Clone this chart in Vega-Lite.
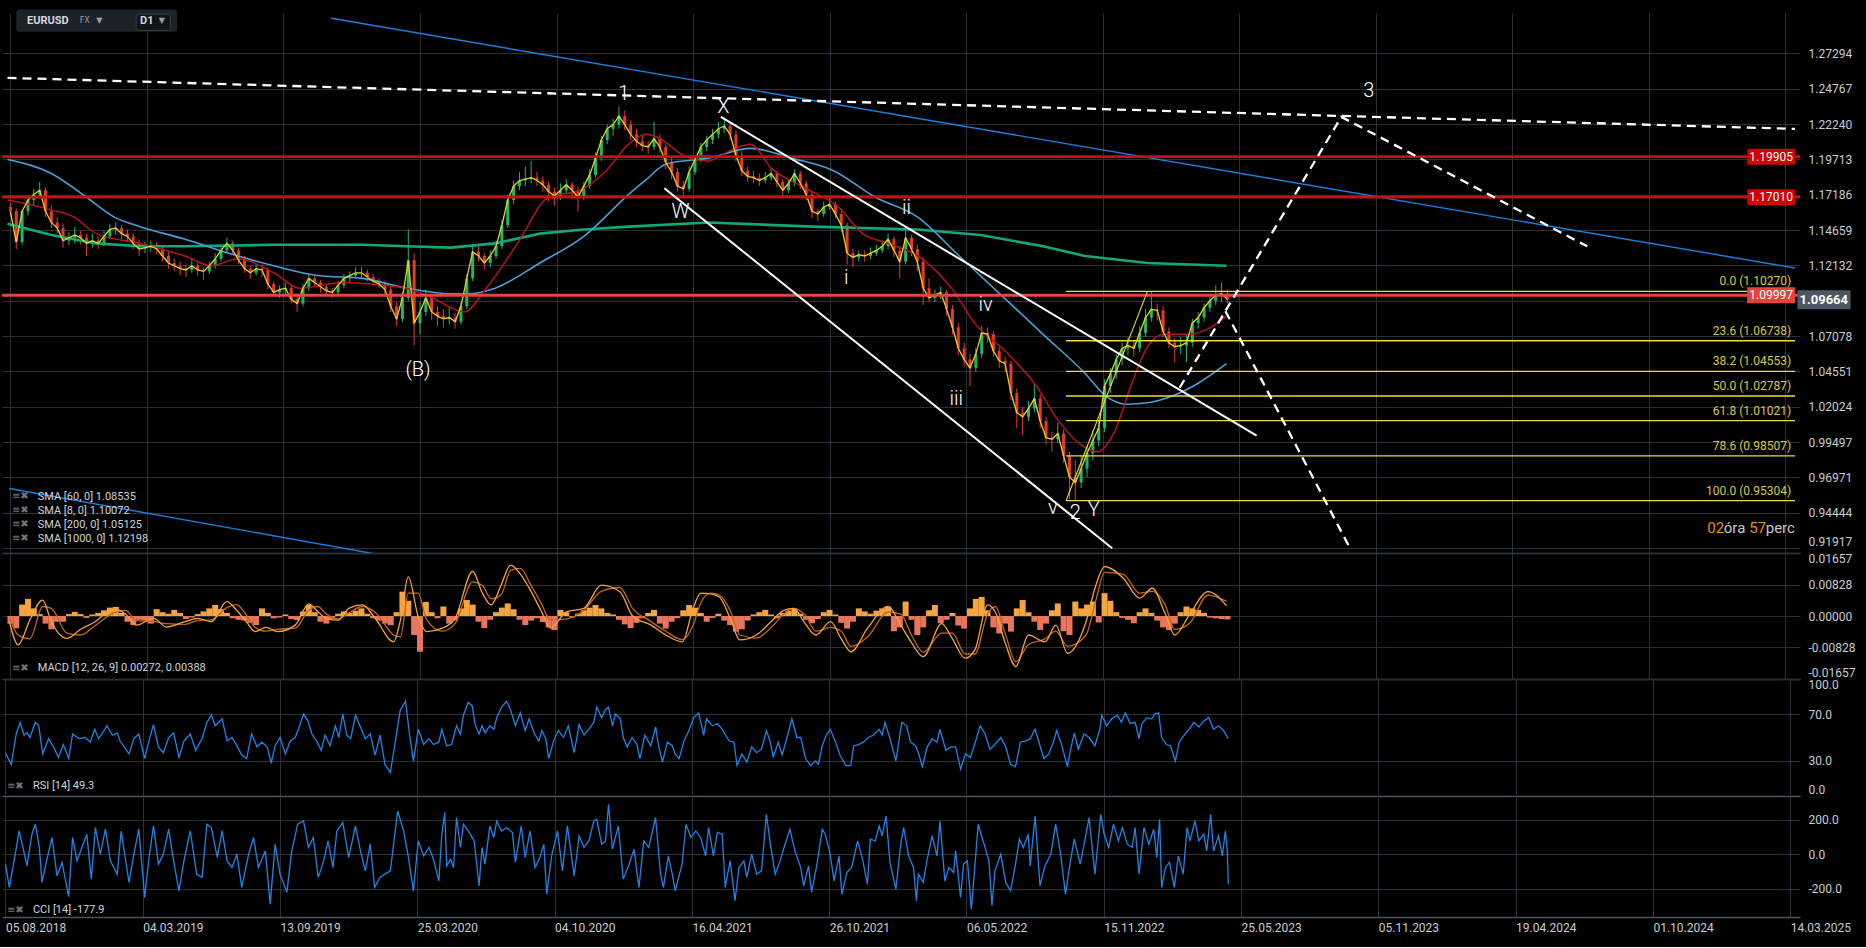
{
  "$schema": "https://vega.github.io/schema/vega-lite/v6.json",
  "background": "#000000",
  "padding": {"left": 0, "top": 9, "right": 16, "bottom": 14},
  "bounds": "flush",
  "spacing": 0,
  "datasets": {
    "px": [
      {"i":0,"o":1.163,"h":1.166,"l":1.157,"c":1.16},{"i":6,"o":1.16,"h":1.162,"l":1.133,"c":1.138},{"i":12,"o":1.138,"h":1.161,"l":1.136,"c":1.16},{"i":18,"o":1.16,"h":1.171,"l":1.157,"c":1.168},{"i":24,"o":1.168,"h":1.176,"l":1.164,"c":1.172},{"i":30,"o":1.172,"h":1.181,"l":1.169,"c":1.175},{"i":36,"o":1.175,"h":1.177,"l":1.156,"c":1.16},{"i":42,"o":1.16,"h":1.164,"l":1.148,"c":1.152},{"i":48,"o":1.152,"h":1.156,"l":1.144,"c":1.148},{"i":54,"o":1.148,"h":1.151,"l":1.134,"c":1.139},
      {"i":60,"o":1.139,"h":1.145,"l":1.136,"c":1.141},{"i":66,"o":1.141,"h":1.149,"l":1.137,"c":1.143},{"i":72,"o":1.143,"h":1.146,"l":1.136,"c":1.141},{"i":78,"o":1.141,"h":1.144,"l":1.128,"c":1.137},{"i":84,"o":1.137,"h":1.144,"l":1.134,"c":1.139},{"i":90,"o":1.139,"h":1.142,"l":1.133,"c":1.137},{"i":96,"o":1.137,"h":1.146,"l":1.135,"c":1.142},{"i":102,"o":1.142,"h":1.151,"l":1.14,"c":1.147},{"i":108,"o":1.147,"h":1.152,"l":1.143,"c":1.148},{"i":114,"o":1.148,"h":1.15,"l":1.14,"c":1.144},
      {"i":120,"o":1.144,"h":1.147,"l":1.138,"c":1.142},{"i":126,"o":1.142,"h":1.144,"l":1.133,"c":1.137},{"i":132,"o":1.137,"h":1.14,"l":1.128,"c":1.133},{"i":138,"o":1.133,"h":1.138,"l":1.13,"c":1.134},{"i":144,"o":1.134,"h":1.139,"l":1.131,"c":1.135},{"i":150,"o":1.135,"h":1.138,"l":1.129,"c":1.133},{"i":156,"o":1.133,"h":1.135,"l":1.124,"c":1.128},{"i":162,"o":1.128,"h":1.131,"l":1.119,"c":1.123},{"i":168,"o":1.123,"h":1.126,"l":1.117,"c":1.121},{"i":174,"o":1.121,"h":1.124,"l":1.114,"c":1.119},
      {"i":180,"o":1.119,"h":1.122,"l":1.113,"c":1.118},{"i":186,"o":1.118,"h":1.126,"l":1.116,"c":1.121},{"i":192,"o":1.121,"h":1.123,"l":1.114,"c":1.118},{"i":198,"o":1.118,"h":1.12,"l":1.111,"c":1.117},{"i":204,"o":1.117,"h":1.124,"l":1.115,"c":1.121},{"i":210,"o":1.121,"h":1.13,"l":1.119,"c":1.126},{"i":216,"o":1.126,"h":1.135,"l":1.124,"c":1.132},{"i":222,"o":1.132,"h":1.141,"l":1.13,"c":1.137},{"i":228,"o":1.137,"h":1.139,"l":1.129,"c":1.132},{"i":234,"o":1.132,"h":1.134,"l":1.122,"c":1.125},
      {"i":240,"o":1.125,"h":1.128,"l":1.116,"c":1.119},{"i":246,"o":1.119,"h":1.121,"l":1.112,"c":1.116},{"i":252,"o":1.116,"h":1.123,"l":1.114,"c":1.119},{"i":258,"o":1.119,"h":1.122,"l":1.113,"c":1.118},{"i":264,"o":1.118,"h":1.12,"l":1.104,"c":1.108},{"i":270,"o":1.108,"h":1.11,"l":1.099,"c":1.102},{"i":276,"o":1.102,"h":1.107,"l":1.098,"c":1.104},{"i":282,"o":1.104,"h":1.109,"l":1.1,"c":1.105},{"i":288,"o":1.105,"h":1.107,"l":1.094,"c":1.097},{"i":294,"o":1.097,"h":1.1,"l":1.088,"c":1.094},
      {"i":300,"o":1.094,"h":1.108,"l":1.092,"c":1.105},{"i":306,"o":1.105,"h":1.115,"l":1.103,"c":1.112},{"i":312,"o":1.112,"h":1.114,"l":1.106,"c":1.109},{"i":318,"o":1.109,"h":1.111,"l":1.102,"c":1.106},{"i":324,"o":1.106,"h":1.108,"l":1.099,"c":1.103},{"i":330,"o":1.103,"h":1.105,"l":1.098,"c":1.102},{"i":336,"o":1.102,"h":1.11,"l":1.1,"c":1.107},{"i":342,"o":1.107,"h":1.115,"l":1.105,"c":1.112},{"i":348,"o":1.112,"h":1.117,"l":1.109,"c":1.114},{"i":354,"o":1.114,"h":1.12,"l":1.112,"c":1.116},
      {"i":360,"o":1.116,"h":1.12,"l":1.112,"c":1.116},{"i":366,"o":1.116,"h":1.118,"l":1.11,"c":1.113},{"i":372,"o":1.113,"h":1.115,"l":1.107,"c":1.11},{"i":378,"o":1.11,"h":1.112,"l":1.105,"c":1.108},{"i":384,"o":1.108,"h":1.11,"l":1.1,"c":1.104},{"i":390,"o":1.104,"h":1.106,"l":1.088,"c":1.092},{"i":396,"o":1.092,"h":1.095,"l":1.078,"c":1.083},{"i":402,"o":1.083,"h":1.102,"l":1.081,"c":1.098},{"i":408,"o":1.098,"h":1.147,"l":1.096,"c":1.125},{"i":414,"o":1.125,"h":1.13,"l":1.064,"c":1.08},
      {"i":420,"o":1.08,"h":1.095,"l":1.072,"c":1.088},{"i":426,"o":1.088,"h":1.104,"l":1.085,"c":1.098},{"i":432,"o":1.098,"h":1.1,"l":1.082,"c":1.088},{"i":438,"o":1.088,"h":1.092,"l":1.078,"c":1.085},{"i":444,"o":1.085,"h":1.09,"l":1.077,"c":1.083},{"i":450,"o":1.083,"h":1.092,"l":1.079,"c":1.084},{"i":456,"o":1.084,"h":1.087,"l":1.076,"c":1.081},{"i":462,"o":1.081,"h":1.095,"l":1.079,"c":1.092},{"i":468,"o":1.092,"h":1.115,"l":1.09,"c":1.112},{"i":474,"o":1.112,"h":1.136,"l":1.11,"c":1.131},
      {"i":480,"o":1.131,"h":1.135,"l":1.124,"c":1.128},{"i":486,"o":1.128,"h":1.13,"l":1.118,"c":1.123},{"i":492,"o":1.123,"h":1.132,"l":1.12,"c":1.128},{"i":498,"o":1.128,"h":1.139,"l":1.126,"c":1.135},{"i":504,"o":1.135,"h":1.154,"l":1.133,"c":1.15},{"i":510,"o":1.15,"h":1.172,"l":1.148,"c":1.168},{"i":516,"o":1.168,"h":1.182,"l":1.165,"c":1.178},{"i":522,"o":1.178,"h":1.188,"l":1.175,"c":1.182},{"i":528,"o":1.182,"h":1.192,"l":1.178,"c":1.183},{"i":534,"o":1.183,"h":1.196,"l":1.18,"c":1.184},
      {"i":540,"o":1.184,"h":1.188,"l":1.178,"c":1.182},{"i":546,"o":1.182,"h":1.185,"l":1.174,"c":1.179},{"i":552,"o":1.179,"h":1.181,"l":1.167,"c":1.174},{"i":558,"o":1.174,"h":1.177,"l":1.164,"c":1.171},{"i":564,"o":1.171,"h":1.18,"l":1.168,"c":1.175},{"i":570,"o":1.175,"h":1.183,"l":1.172,"c":1.179},{"i":576,"o":1.179,"h":1.181,"l":1.17,"c":1.175},{"i":582,"o":1.175,"h":1.178,"l":1.16,"c":1.17},{"i":588,"o":1.17,"h":1.181,"l":1.168,"c":1.178},{"i":594,"o":1.178,"h":1.19,"l":1.176,"c":1.186},
      {"i":600,"o":1.186,"h":1.202,"l":1.184,"c":1.198},{"i":606,"o":1.198,"h":1.214,"l":1.196,"c":1.211},{"i":612,"o":1.211,"h":1.222,"l":1.208,"c":1.219},{"i":618,"o":1.219,"h":1.226,"l":1.214,"c":1.222},{"i":624,"o":1.222,"h":1.235,"l":1.219,"c":1.228},{"i":630,"o":1.228,"h":1.232,"l":1.218,"c":1.222},{"i":636,"o":1.222,"h":1.225,"l":1.211,"c":1.215},{"i":642,"o":1.215,"h":1.219,"l":1.206,"c":1.21},{"i":648,"o":1.21,"h":1.214,"l":1.203,"c":1.207},{"i":654,"o":1.207,"h":1.21,"l":1.201,"c":1.206},
      {"i":660,"o":1.206,"h":1.224,"l":1.204,"c":1.212},{"i":666,"o":1.212,"h":1.215,"l":1.202,"c":1.206},{"i":672,"o":1.206,"h":1.208,"l":1.19,"c":1.195},{"i":678,"o":1.195,"h":1.198,"l":1.183,"c":1.188},{"i":684,"o":1.188,"h":1.191,"l":1.174,"c":1.178},{"i":690,"o":1.178,"h":1.182,"l":1.17,"c":1.176},{"i":696,"o":1.176,"h":1.192,"l":1.174,"c":1.188},{"i":702,"o":1.188,"h":1.2,"l":1.186,"c":1.197},{"i":708,"o":1.197,"h":1.209,"l":1.195,"c":1.206},{"i":714,"o":1.206,"h":1.214,"l":1.203,"c":1.211},
      {"i":720,"o":1.211,"h":1.219,"l":1.208,"c":1.215},{"i":726,"o":1.215,"h":1.224,"l":1.212,"c":1.219},{"i":732,"o":1.219,"h":1.227,"l":1.216,"c":1.221},{"i":738,"o":1.221,"h":1.224,"l":1.211,"c":1.215},{"i":744,"o":1.215,"h":1.218,"l":1.196,"c":1.2},{"i":750,"o":1.2,"h":1.203,"l":1.185,"c":1.189},{"i":756,"o":1.189,"h":1.192,"l":1.181,"c":1.185},{"i":762,"o":1.185,"h":1.189,"l":1.18,"c":1.184},{"i":768,"o":1.184,"h":1.187,"l":1.178,"c":1.182},{"i":774,"o":1.182,"h":1.188,"l":1.18,"c":1.184},
      {"i":780,"o":1.184,"h":1.191,"l":1.182,"c":1.187},{"i":786,"o":1.187,"h":1.189,"l":1.177,"c":1.181},{"i":792,"o":1.181,"h":1.183,"l":1.17,"c":1.175},{"i":798,"o":1.175,"h":1.183,"l":1.173,"c":1.18},{"i":804,"o":1.18,"h":1.19,"l":1.178,"c":1.187},{"i":810,"o":1.187,"h":1.189,"l":1.176,"c":1.18},{"i":816,"o":1.18,"h":1.182,"l":1.168,"c":1.172},{"i":822,"o":1.172,"h":1.174,"l":1.155,"c":1.16},{"i":828,"o":1.16,"h":1.162,"l":1.153,"c":1.158},{"i":834,"o":1.158,"h":1.167,"l":1.156,"c":1.163},
      {"i":840,"o":1.163,"h":1.17,"l":1.161,"c":1.165},{"i":846,"o":1.165,"h":1.167,"l":1.155,"c":1.158},{"i":852,"o":1.158,"h":1.16,"l":1.145,"c":1.15},{"i":858,"o":1.15,"h":1.152,"l":1.122,"c":1.13},{"i":864,"o":1.13,"h":1.133,"l":1.12,"c":1.127},{"i":870,"o":1.127,"h":1.132,"l":1.124,"c":1.129},{"i":876,"o":1.129,"h":1.132,"l":1.124,"c":1.128},{"i":882,"o":1.128,"h":1.134,"l":1.126,"c":1.13},{"i":888,"o":1.13,"h":1.136,"l":1.128,"c":1.132},{"i":894,"o":1.132,"h":1.139,"l":1.13,"c":1.135},
      {"i":900,"o":1.135,"h":1.144,"l":1.133,"c":1.14},{"i":906,"o":1.14,"h":1.142,"l":1.127,"c":1.132},{"i":912,"o":1.132,"h":1.135,"l":1.112,"c":1.124},{"i":918,"o":1.124,"h":1.149,"l":1.122,"c":1.141},{"i":924,"o":1.141,"h":1.143,"l":1.128,"c":1.133},{"i":930,"o":1.133,"h":1.136,"l":1.117,"c":1.124},{"i":936,"o":1.124,"h":1.127,"l":1.093,"c":1.105},{"i":942,"o":1.105,"h":1.112,"l":1.095,"c":1.098},{"i":948,"o":1.098,"h":1.104,"l":1.095,"c":1.1},{"i":954,"o":1.1,"h":1.106,"l":1.097,"c":1.102},
      {"i":960,"o":1.102,"h":1.104,"l":1.085,"c":1.09},{"i":966,"o":1.09,"h":1.093,"l":1.072,"c":1.077},{"i":972,"o":1.077,"h":1.08,"l":1.057,"c":1.062},{"i":978,"o":1.062,"h":1.066,"l":1.049,"c":1.054},{"i":984,"o":1.054,"h":1.058,"l":1.035,"c":1.048},{"i":990,"o":1.048,"h":1.062,"l":1.045,"c":1.058},{"i":996,"o":1.058,"h":1.078,"l":1.055,"c":1.073},{"i":1002,"o":1.073,"h":1.077,"l":1.066,"c":1.072},{"i":1008,"o":1.072,"h":1.074,"l":1.056,"c":1.06},{"i":1014,"o":1.06,"h":1.063,"l":1.048,"c":1.053},
      {"i":1020,"o":1.053,"h":1.056,"l":1.045,"c":1.051},{"i":1026,"o":1.051,"h":1.053,"l":1.025,"c":1.03},{"i":1032,"o":1.03,"h":1.033,"l":1.005,"c":1.016},{"i":1038,"o":1.016,"h":1.02,"l":1.0,"c":1.013},{"i":1044,"o":1.013,"h":1.024,"l":1.01,"c":1.019},{"i":1050,"o":1.019,"h":1.037,"l":1.016,"c":1.026},{"i":1056,"o":1.026,"h":1.029,"l":1.005,"c":1.01},{"i":1062,"o":1.01,"h":1.013,"l":0.993,"c":0.998},{"i":1068,"o":0.998,"h":1.002,"l":0.988,"c":0.997},{"i":1074,"o":0.997,"h":1.009,"l":0.994,"c":1.001},
      {"i":1080,"o":1.001,"h":1.004,"l":0.98,"c":0.985},{"i":1086,"o":0.985,"h":0.988,"l":0.954,"c":0.97},{"i":1092,"o":0.97,"h":0.982,"l":0.9535,"c":0.966},{"i":1098,"o":0.966,"h":0.985,"l":0.962,"c":0.976},{"i":1104,"o":0.976,"h":0.992,"l":0.97,"c":0.987},{"i":1110,"o":0.987,"h":1.003,"l":0.982,"c":0.996},{"i":1116,"o":0.996,"h":1.01,"l":0.992,"c":1.005},{"i":1122,"o":1.005,"h":1.04,"l":1.002,"c":1.035},{"i":1128,"o":1.035,"h":1.048,"l":1.03,"c":1.044},{"i":1134,"o":1.044,"h":1.058,"l":1.04,"c":1.054},
      {"i":1140,"o":1.054,"h":1.066,"l":1.05,"c":1.062},{"i":1146,"o":1.062,"h":1.07,"l":1.057,"c":1.064},{"i":1152,"o":1.064,"h":1.068,"l":1.056,"c":1.062},{"i":1158,"o":1.062,"h":1.078,"l":1.059,"c":1.073},{"i":1164,"o":1.073,"h":1.09,"l":1.07,"c":1.084},{"i":1170,"o":1.084,"h":1.103,"l":1.081,"c":1.09},{"i":1176,"o":1.09,"h":1.094,"l":1.082,"c":1.089},{"i":1182,"o":1.089,"h":1.092,"l":1.07,"c":1.074},{"i":1188,"o":1.074,"h":1.077,"l":1.062,"c":1.066},{"i":1194,"o":1.066,"h":1.069,"l":1.052,"c":1.063},
      {"i":1200,"o":1.063,"h":1.07,"l":1.058,"c":1.064},{"i":1206,"o":1.064,"h":1.072,"l":1.052,"c":1.066},{"i":1212,"o":1.066,"h":1.083,"l":1.063,"c":1.08},{"i":1218,"o":1.08,"h":1.088,"l":1.076,"c":1.084},{"i":1224,"o":1.084,"h":1.094,"l":1.081,"c":1.091},{"i":1230,"o":1.091,"h":1.101,"l":1.088,"c":1.096},{"i":1236,"o":1.096,"h":1.107,"l":1.093,"c":1.1},{"i":1242,"o":1.1,"h":1.109,"l":1.095,"c":1.101},{"i":1248,"o":1.101,"h":1.104,"l":1.094,"c":1.097}
    ],
    "ma": [
      {"k":"60","i":-3,"v":1.168},{"k":"60","i":42,"v":1.161},{"k":"60","i":65,"v":1.156},{"k":"60","i":88,"v":1.144},{"k":"60","i":133,"v":1.137},{"k":"60","i":179,"v":1.128},{"k":"60","i":206,"v":1.121},{"k":"60","i":233,"v":1.126},{"k":"60","i":270,"v":1.116},{"k":"60","i":297,"v":1.105},{"k":"60","i":342,"v":1.109},{"k":"60","i":383,"v":1.107},{"k":"60","i":406,"v":1.105},{"k":"60","i":433,"v":1.098},{"k":"60","i":465,"v":1.088},{"k":"60","i":488,"v":1.105},{"k":"60","i":520,"v":1.137},{"k":"60","i":552,"v":1.17},{"k":"60","i":584,"v":1.175},{"k":"60","i":611,"v":1.189},{"k":"60","i":634,"v":1.208},{"k":"60","i":652,"v":1.215},{"k":"60","i":666,"v":1.212},{"k":"60","i":690,"v":1.2},{"k":"60","i":716,"v":1.196},{"k":"60","i":737,"v":1.203},{"k":"60","i":759,"v":1.208},{"k":"60","i":780,"v":1.191},{"k":"60","i":814,"v":1.177},{"k":"60","i":849,"v":1.163},{"k":"60","i":874,"v":1.144},{"k":"60","i":900,"v":1.137},{"k":"60","i":935,"v":1.126},{"k":"60","i":965,"v":1.105},{"k":"60","i":990,"v":1.079},{"k":"60","i":1020,"v":1.06},{"k":"60","i":1050,"v":1.037},{"k":"60","i":1076,"v":1.009},{"k":"60","i":1098,"v":0.993},{"k":"60","i":1115,"v":0.988},{"k":"60","i":1132,"v":1.002},{"k":"60","i":1149,"v":1.035},{"k":"60","i":1166,"v":1.063},{"k":"60","i":1183,"v":1.072},{"k":"60","i":1209,"v":1.072},{"k":"60","i":1231,"v":1.077},{"k":"60","i":1247,"v":1.085},
      {"k":"200","i":-3,"v":1.197},{"k":"200","i":42,"v":1.187},{"k":"200","i":78,"v":1.17},{"k":"200","i":106,"v":1.156},{"k":"200","i":133,"v":1.149},{"k":"200","i":179,"v":1.14},{"k":"200","i":224,"v":1.13},{"k":"200","i":270,"v":1.121},{"k":"200","i":315,"v":1.114},{"k":"200","i":361,"v":1.112},{"k":"200","i":406,"v":1.105},{"k":"200","i":452,"v":1.101},{"k":"200","i":470,"v":1.101},{"k":"200","i":497,"v":1.105},{"k":"200","i":543,"v":1.123},{"k":"200","i":588,"v":1.142},{"k":"200","i":634,"v":1.172},{"k":"200","i":651,"v":1.182},{"k":"200","i":673,"v":1.194},{"k":"200","i":716,"v":1.198},{"k":"200","i":759,"v":1.205},{"k":"200","i":801,"v":1.198},{"k":"200","i":844,"v":1.189},{"k":"200","i":887,"v":1.17},{"k":"200","i":930,"v":1.156},{"k":"200","i":973,"v":1.128},{"k":"200","i":1016,"v":1.1},{"k":"200","i":1059,"v":1.072},{"k":"200","i":1102,"v":1.044},{"k":"200","i":1123,"v":1.028},{"k":"200","i":1145,"v":1.022},{"k":"200","i":1166,"v":1.023},{"k":"200","i":1192,"v":1.028},{"k":"200","i":1218,"v":1.037},{"k":"200","i":1247,"v":1.051},
      {"k":"1000","i":-3,"v":1.151},{"k":"1000","i":42,"v":1.143},{"k":"1000","i":88,"v":1.137},{"k":"1000","i":133,"v":1.135},{"k":"1000","i":179,"v":1.135},{"k":"1000","i":270,"v":1.136},{"k":"1000","i":361,"v":1.136},{"k":"1000","i":406,"v":1.135},{"k":"1000","i":452,"v":1.134},{"k":"1000","i":497,"v":1.137},{"k":"1000","i":543,"v":1.144},{"k":"1000","i":588,"v":1.147},{"k":"1000","i":634,"v":1.149},{"k":"1000","i":716,"v":1.152},{"k":"1000","i":823,"v":1.149},{"k":"1000","i":930,"v":1.147},{"k":"1000","i":995,"v":1.143},{"k":"1000","i":1059,"v":1.135},{"k":"1000","i":1102,"v":1.128},{"k":"1000","i":1166,"v":1.123},{"k":"1000","i":1247,"v":1.121}
    ],
    "ln": [
      {"g":"blue","id":"t1","i":329,"p":1.298},{"g":"blue","id":"t1","i":1830,"p":1.1194},
      {"g":"blue","id":"t2","i":-1.2,"p":0.9617},{"g":"blue","id":"t2","i":400,"p":0.9117},
      {"g":"dash","id":"d0","i":-3,"p":1.2554},{"g":"dash","id":"d0","i":1830,"p":1.2189},
      {"g":"dash","id":"d1","i":1199,"p":1.0338},{"g":"dash","id":"d1","i":1364.8,"p":1.2275},{"g":"dash","id":"d1","i":1617,"p":1.1349},
      {"g":"dash","id":"d2","i":1246,"p":1.0885},{"g":"dash","id":"d2","i":1373,"p":0.92},
      {"g":"white","id":"c1","i":728.5,"p":1.2275},{"g":"white","id":"c1","i":1277.9,"p":0.9996},
      {"g":"white","id":"c2","i":670.6,"p":1.1765},{"g":"white","id":"c2","i":1129.8,"p":0.919},
      {"g":"fibd","id":"f1","i":1082.5,"p":0.953},{"g":"fibd","id":"f1","i":1166,"p":1.1027}
    ],
    "fib": [
      {"p":1.1027,"t":"0.0 (1.10270)"},{"p":1.06738,"t":"23.6 (1.06738)"},{"p":1.04553,"t":"38.2 (1.04553)"},{"p":1.02787,"t":"50.0 (1.02787)"},{"p":1.01021,"t":"61.8 (1.01021)"},{"p":0.98507,"t":"78.6 (0.98507)"},{"p":0.95304,"t":"100.0 (0.95304)"}
    ],
    "hl": [
      {"p":1.19905,"t":"1.19905","k":"r"},{"p":1.1701,"t":"1.17010","k":"r"},{"p":1.09997,"t":"1.09997","k":"s"}
    ],
    "wv": [
      {"t":"1","i":629,"p":1.2438},{"t":"X","i":731,"p":1.2345},{"t":"W","i":687,"p":1.1597},{"t":"ii","i":919,"p":1.162},{"t":"i","i":857,"p":1.1122},{"t":"iv","i":1000,"p":1.0931},{"t":"iii","i":970,"p":1.0258},{"t":"(B)","i":418,"p":1.0463},{"t":"v","i":1069,"p":0.9481},{"t":"2","i":1092,"p":0.9439},{"t":"Y","i":1111,"p":0.9463},{"t":"3","i":1393,"p":1.2458}
    ],
    "tm": [
      {"t":"02","i":1740,"k":"n"},{"t":"óra","i":1757,"k":"w"},{"t":"57","i":1783,"k":"n"},{"t":"perc","i":1800,"k":"w"}
    ],
    "macd": [
      {"i":-1,"m":-0.0015,"s":-0.0005},{"i":8,"m":-0.0076,"s":-0.005},{"i":20,"m":-0.001,"s":-0.006},{"i":33,"m":0.0042,"s":0.0025},{"i":42,"m":-0.0015,"s":0.002},{"i":58,"m":-0.0059,"s":-0.0045},{"i":72,"m":-0.0035,"s":-0.005},{"i":87,"m":-0.0015,"s":-0.0025},{"i":106,"m":0.002,"s":0.0008},{"i":118,"m":0.0005,"s":0.0015},{"i":129,"m":-0.0024,"s":-0.0012},{"i":147,"m":-0.0006,"s":-0.0015},{"i":160,"m":-0.0029,"s":-0.002},{"i":179,"m":-0.0015,"s":-0.0022},{"i":192,"m":-0.0006,"s":-0.0012},{"i":206,"m":-0.0015,"s":-0.001},{"i":222,"m":0.0038,"s":0.0022},{"i":232,"m":0.0015,"s":0.003},{"i":242,"m":-0.0015,"s":0.0002},{"i":251,"m":-0.0041,"s":-0.003},{"i":262,"m":-0.003,"s":-0.004},{"i":274,"m":-0.0041,"s":-0.0035},{"i":292,"m":-0.0024,"s":-0.0032},{"i":306,"m":0.0032,"s":0.0015},{"i":315,"m":0.0012,"s":0.0025},{"i":324,"m":-0.0006,"s":0.0005},{"i":336,"m":-0.0011,"s":-0.0008},{"i":347,"m":0.002,"s":0.0008},{"i":361,"m":0.0029,"s":0.0025},{"i":374,"m":-0.0006,"s":0.001},{"i":393,"m":-0.0068,"s":-0.005},{"i":400,"m":-0.001,"s":-0.0055},{"i":408,"m":0.0103,"s":0.006},{"i":418,"m":0.0,"s":0.006},{"i":427,"m":-0.0041,"s":-0.001},{"i":443,"m":-0.0032,"s":-0.004},{"i":456,"m":-0.0006,"s":-0.002},{"i":474,"m":0.0117,"s":0.009},{"i":484,"m":0.006,"s":0.008},{"i":493,"m":0.0029,"s":0.0045},{"i":503,"m":0.008,"s":0.0055},{"i":513,"m":0.0134,"s":0.012},{"i":523,"m":0.011,"s":0.0125},{"i":534,"m":0.0064,"s":0.008},{"i":544,"m":0.0015,"s":0.0035},{"i":554,"m":-0.0032,"s":-0.001},{"i":570,"m":0.0011,"s":-0.0008},{"i":588,"m":0.002,"s":0.0015},{"i":606,"m":0.0081,"s":0.0065},{"i":625,"m":0.0064,"s":0.0075},{"i":638,"m":0.0,"s":0.002},{"i":657,"m":-0.0024,"s":-0.0015},{"i":672,"m":-0.005,"s":-0.004},{"i":689,"m":-0.0068,"s":-0.0062},{"i":700,"m":0.002,"s":-0.0025},{"i":708,"m":0.006,"s":0.0035},{"i":718,"m":0.0058,"s":0.006},{"i":727,"m":0.005,"s":0.0055},{"i":738,"m":-0.0005,"s":0.0015},{"i":748,"m":-0.0063,"s":-0.005},{"i":765,"m":-0.005,"s":-0.0058},{"i":782,"m":-0.001,"s":-0.0025},{"i":793,"m":0.0015,"s":0.0005},{"i":803,"m":0.002,"s":0.002},{"i":815,"m":-0.002,"s":0.0002},{"i":826,"m":-0.005,"s":-0.004},{"i":841,"m":-0.0015,"s":-0.003},{"i":852,"m":-0.006,"s":-0.004},{"i":862,"m":-0.0094,"s":-0.008},{"i":879,"m":-0.0032,"s":-0.0055},{"i":900,"m":0.0025,"s":0.001},{"i":913,"m":-0.0024,"s":0.0005},{"i":924,"m":-0.007,"s":-0.005},{"i":936,"m":-0.0107,"s":-0.0095},{"i":955,"m":-0.002,"s":-0.0045},{"i":966,"m":-0.006,"s":-0.0045},{"i":979,"m":-0.0111,"s":-0.01},{"i":989,"m":-0.0089,"s":-0.01},{"i":1002,"m":0.0029,"s":0.0005},{"i":1010,"m":0.001,"s":0.0025},{"i":1020,"m":-0.007,"s":-0.0045},{"i":1031,"m":-0.0133,"s":-0.012},{"i":1044,"m":-0.005,"s":-0.0075},{"i":1061,"m":-0.0068,"s":-0.006},{"i":1072,"m":-0.0024,"s":-0.004},{"i":1084,"m":-0.0098,"s":-0.008},{"i":1103,"m":-0.0015,"s":-0.005},{"i":1113,"m":0.008,"s":0.004},{"i":1122,"m":0.013,"s":0.0115},{"i":1141,"m":0.01,"s":0.011},{"i":1158,"m":0.0047,"s":0.006},{"i":1171,"m":0.0073,"s":0.0065},{"i":1184,"m":0.0007,"s":0.003},{"i":1194,"m":-0.005,"s":-0.0035},{"i":1209,"m":0.0003,"s":-0.002},{"i":1228,"m":0.0064,"s":0.0055},{"i":1247,"m":0.0027,"s":0.0039}
    ],
    "hist": [
      {"i":0,"h":-0.002},{"i":6,"h":-0.0032},{"i":12,"h":0.003},{"i":18,"h":0.0045},{"i":24,"h":0.002},{"i":30,"h":0.0005},{"i":36,"h":-0.002},{"i":42,"h":-0.0035},{"i":48,"h":-0.0015},{"i":54,"h":-0.0015},{"i":60,"h":0.0005},{"i":66,"h":0.0011},{"i":72,"h":0.0005},{"i":78,"h":-0.0005},{"i":84,"h":0.0004},{"i":90,"h":0.0008},{"i":96,"h":0.0015},{"i":102,"h":0.0022},{"i":108,"h":0.0024},{"i":114,"h":0.0008},{"i":120,"h":-0.0015},{"i":126,"h":-0.0024},{"i":132,"h":-0.001},{"i":138,"h":-0.0012},{"i":144,"h":-0.002},{"i":150,"h":0.0018},{"i":156,"h":0.001},{"i":162,"h":0.0006},{"i":168,"h":0.0016},{"i":174,"h":0.0008},{"i":180,"h":-0.0008},{"i":186,"h":-0.0004},{"i":192,"h":0.0005},{"i":198,"h":0.0012},{"i":204,"h":0.002},{"i":210,"h":0.0029},{"i":216,"h":0.0018},{"i":222,"h":0.0008},{"i":228,"h":-0.0006},{"i":234,"h":-0.001},{"i":240,"h":-0.0012},{"i":246,"h":-0.0018},{"i":252,"h":-0.0024},{"i":258,"h":0.002},{"i":264,"h":0.0008},{"i":270,"h":-0.0006},{"i":276,"h":-0.0004},{"i":282,"h":0.0004},{"i":288,"h":-0.0008},{"i":294,"h":-0.0011},{"i":300,"h":0.0012},{"i":306,"h":0.0029},{"i":312,"h":0.001},{"i":318,"h":-0.0015},{"i":324,"h":-0.002},{"i":330,"h":-0.0008},{"i":336,"h":0.0006},{"i":342,"h":0.0012},{"i":348,"h":0.0008},{"i":354,"h":0.0014},{"i":360,"h":0.002},{"i":366,"h":0.0006},{"i":372,"h":-0.0006},{"i":378,"h":-0.0012},{"i":384,"h":-0.002},{"i":390,"h":-0.0024},{"i":396,"h":0.001},{"i":402,"h":0.0064},{"i":408,"h":0.004},{"i":414,"h":-0.005},{"i":420,"h":-0.0094},{"i":426,"h":0.0037},{"i":432,"h":0.001},{"i":438,"h":-0.0006},{"i":444,"h":0.0025},{"i":450,"h":-0.002},{"i":456,"h":-0.0012},{"i":462,"h":0.002},{"i":468,"h":0.0042},{"i":474,"h":0.003},{"i":480,"h":-0.0015},{"i":486,"h":-0.0032},{"i":492,"h":-0.001},{"i":498,"h":0.001},{"i":504,"h":0.0022},{"i":510,"h":0.0033},{"i":516,"h":0.0018},{"i":522,"h":-0.001},{"i":528,"h":-0.0024},{"i":534,"h":-0.0012},{"i":540,"h":-0.0006},{"i":546,"h":-0.0016},{"i":552,"h":-0.003},{"i":558,"h":-0.0037},{"i":564,"h":0.0016},{"i":570,"h":0.001},{"i":576,"h":-0.0004},{"i":582,"h":0.0006},{"i":588,"h":0.0015},{"i":594,"h":0.0022},{"i":600,"h":0.0029},{"i":606,"h":0.002},{"i":612,"h":0.0008},{"i":618,"h":0.0004},{"i":624,"h":-0.001},{"i":630,"h":-0.0022},{"i":636,"h":-0.0032},{"i":642,"h":-0.0018},{"i":648,"h":-0.0006},{"i":654,"h":0.0008},{"i":660,"h":0.0016},{"i":666,"h":-0.002},{"i":672,"h":-0.0033},{"i":678,"h":-0.0015},{"i":684,"h":-0.0006},{"i":690,"h":0.0015},{"i":696,"h":0.0029},{"i":702,"h":0.0022},{"i":708,"h":0.0008},{"i":714,"h":-0.0015},{"i":720,"h":-0.0005},{"i":726,"h":0.0006},{"i":732,"h":-0.0012},{"i":738,"h":-0.0024},{"i":744,"h":-0.0041},{"i":750,"h":-0.0035},{"i":756,"h":-0.0012},{"i":762,"h":0.0004},{"i":768,"h":0.001},{"i":774,"h":0.0016},{"i":780,"h":0.0004},{"i":786,"h":-0.0006},{"i":792,"h":0.0008},{"i":798,"h":0.0014},{"i":804,"h":0.002},{"i":810,"h":0.0006},{"i":816,"h":-0.001},{"i":822,"h":-0.0019},{"i":828,"h":-0.0008},{"i":834,"h":0.001},{"i":840,"h":0.0016},{"i":846,"h":0.0004},{"i":852,"h":-0.0018},{"i":858,"h":-0.0033},{"i":864,"h":-0.0015},{"i":870,"h":0.002},{"i":876,"h":0.0012},{"i":882,"h":0.0006},{"i":888,"h":0.0014},{"i":894,"h":0.002},{"i":900,"h":0.0025},{"i":906,"h":-0.004},{"i":912,"h":-0.003},{"i":918,"h":0.0038},{"i":924,"h":-0.001},{"i":930,"h":-0.005},{"i":936,"h":-0.003},{"i":942,"h":0.0015},{"i":948,"h":0.0029},{"i":954,"h":-0.0019},{"i":960,"h":-0.001},{"i":966,"h":0.0008},{"i":972,"h":-0.0025},{"i":978,"h":-0.0033},{"i":984,"h":0.002},{"i":990,"h":0.0045},{"i":996,"h":0.005},{"i":1002,"h":0.0015},{"i":1008,"h":-0.003},{"i":1014,"h":-0.0046},{"i":1020,"h":-0.002},{"i":1026,"h":-0.0041},{"i":1032,"h":0.002},{"i":1038,"h":0.0042},{"i":1044,"h":0.001},{"i":1050,"h":-0.0015},{"i":1056,"h":-0.0037},{"i":1062,"h":-0.002},{"i":1068,"h":0.0015},{"i":1074,"h":0.0033},{"i":1080,"h":-0.004},{"i":1086,"h":-0.005},{"i":1092,"h":0.0038},{"i":1098,"h":0.002},{"i":1104,"h":0.003},{"i":1110,"h":0.0038},{"i":1116,"h":-0.0017},{"i":1122,"h":0.006},{"i":1128,"h":0.004},{"i":1134,"h":0.001},{"i":1140,"h":-0.0005},{"i":1146,"h":-0.001},{"i":1152,"h":-0.0019},{"i":1158,"h":0.001},{"i":1164,"h":0.002},{"i":1170,"h":0.0008},{"i":1176,"h":-0.0012},{"i":1182,"h":-0.003},{"i":1188,"h":-0.0037},{"i":1194,"h":-0.002},{"i":1200,"h":0.001},{"i":1206,"h":0.0025},{"i":1212,"h":0.002},{"i":1218,"h":0.0016},{"i":1224,"h":0.0008},{"i":1230,"h":-0.0004},{"i":1236,"h":-0.0006},{"i":1242,"h":-0.0008},{"i":1248,"h":-0.0009}
    ],
    "rsi": [
      {"i":0,"r":37},{"i":6,"r":27},{"i":11,"r":53},{"i":15,"r":63},{"i":19,"r":52},{"i":22,"r":54},{"i":25,"r":50},{"i":30.5,"r":63},{"i":34,"r":60},{"i":38,"r":36},{"i":44,"r":49},{"i":49,"r":42},{"i":54,"r":33},{"i":59,"r":44},{"i":64.5,"r":32},{"i":68.5,"r":53},{"i":75,"r":49},{"i":81.5,"r":50},{"i":86.5,"r":46},{"i":91,"r":57},{"i":95,"r":49},{"i":98.5,"r":53},{"i":103.5,"r":60},{"i":109,"r":52},{"i":114,"r":54},{"i":117,"r":47},{"i":126,"r":36},{"i":131,"r":49},{"i":136,"r":53},{"i":142,"r":32},{"i":146,"r":46},{"i":151,"r":61},{"i":156,"r":42},{"i":161,"r":37},{"i":166.5,"r":50},{"i":171.5,"r":54},{"i":177,"r":33},{"i":182,"r":47},{"i":188.5,"r":53},{"i":194,"r":39},{"i":200.5,"r":49},{"i":205.5,"r":63},{"i":210,"r":69},{"i":214,"r":60},{"i":221,"r":66},{"i":226,"r":47},{"i":231,"r":50},{"i":236,"r":43},{"i":241,"r":35},{"i":246,"r":32},{"i":251,"r":53},{"i":256.5,"r":42},{"i":261.5,"r":46},{"i":267,"r":42},{"i":271,"r":28},{"i":275,"r":43},{"i":280,"r":50},{"i":285.5,"r":36},{"i":290.5,"r":47},{"i":295.5,"r":50},{"i":300,"r":60},{"i":304,"r":70},{"i":308.5,"r":64},{"i":312.5,"r":53},{"i":318,"r":46},{"i":322,"r":39},{"i":326,"r":52},{"i":331,"r":43},{"i":336.5,"r":60},{"i":340,"r":50},{"i":344,"r":70},{"i":348,"r":52},{"i":352,"r":49},{"i":357,"r":69},{"i":362,"r":59},{"i":367,"r":49},{"i":372,"r":53},{"i":377,"r":35},{"i":382,"r":52},{"i":387,"r":27},{"i":392.5,"r":20},{"i":397.5,"r":46},{"i":402.5,"r":73},{"i":408,"r":81},{"i":412,"r":53},{"i":416,"r":30},{"i":421,"r":57},{"i":426.5,"r":44},{"i":432,"r":49},{"i":436.5,"r":44},{"i":442,"r":46},
      {"i":445,"r":57},{"i":450,"r":43},{"i":455,"r":44},{"i":460,"r":60},{"i":464,"r":53},{"i":467,"r":69},{"i":472,"r":80},{"i":476,"r":77},{"i":479,"r":61},{"i":483,"r":53},{"i":486,"r":60},{"i":489,"r":54},{"i":494,"r":60},{"i":498,"r":57},{"i":501,"r":67},{"i":506,"r":76},{"i":511,"r":81},{"i":515,"r":74},{"i":520,"r":60},{"i":525,"r":71},{"i":530,"r":56},{"i":534,"r":66},{"i":539,"r":54},{"i":544,"r":47},{"i":547,"r":56},{"i":551,"r":49},{"i":554,"r":32},{"i":559,"r":47},{"i":564,"r":56},{"i":569,"r":50},{"i":574,"r":60},{"i":580,"r":37},{"i":585,"r":61},{"i":590,"r":52},{"i":595,"r":57},{"i":600,"r":63},{"i":603,"r":76},{"i":608,"r":67},{"i":612,"r":74},{"i":615,"r":76},{"i":619,"r":60},{"i":622,"r":70},{"i":627,"r":66},{"i":630,"r":50},{"i":634,"r":42},{"i":639,"r":50},{"i":644,"r":44},{"i":647,"r":32},{"i":652,"r":52},{"i":658,"r":43},{"i":663,"r":59},{"i":666,"r":43},{"i":670,"r":29},{"i":675,"r":46},{"i":680,"r":43},{"i":683,"r":36},{"i":687,"r":32},{"i":692,"r":47},{"i":697,"r":56},{"i":702,"r":67},{"i":707,"r":71},{"i":712,"r":52},{"i":715,"r":66},{"i":721,"r":60},{"i":726,"r":62},{"i":731,"r":57},{"i":738,"r":47},{"i":743,"r":46},{"i":746,"r":26},{"i":751,"r":36},{"i":756,"r":29},{"i":761,"r":42},{"i":766,"r":37},{"i":771,"r":40},{"i":776,"r":56},{"i":780,"r":46},{"i":783,"r":33},{"i":788,"r":46},{"i":792,"r":35},{"i":797,"r":50},{"i":802,"r":66},{"i":807,"r":50},{"i":811,"r":50},{"i":816,"r":32},{"i":821,"r":26},{"i":826,"r":30},{"i":829,"r":27},{"i":833,"r":43},{"i":837,"r":52},{"i":841,"r":57},{"i":846,"r":47},{"i":851,"r":35},{"i":857,"r":26},{"i":862,"r":26},{"i":865,"r":43},{"i":870,"r":44},{"i":875,"r":46},{"i":880,"r":50},{"i":885,"r":52},{"i":891,"r":57},
      {"i":894,"r":52},{"i":897,"r":63},{"i":902,"r":49},{"i":908,"r":30},{"i":911,"r":46},{"i":914,"r":63},{"i":919,"r":60},{"i":923,"r":46},{"i":928,"r":43},{"i":931,"r":37},{"i":935,"r":25},{"i":940,"r":42},{"i":945,"r":49},{"i":950,"r":46},{"i":953,"r":57},{"i":959,"r":39},{"i":964,"r":42},{"i":969,"r":42},{"i":974,"r":23},{"i":979,"r":36},{"i":984,"r":33},{"i":989,"r":46},{"i":994,"r":60},{"i":999,"r":53},{"i":1004,"r":40},{"i":1009,"r":44},{"i":1015,"r":50},{"i":1020,"r":42},{"i":1025,"r":27},{"i":1030,"r":25},{"i":1035,"r":46},{"i":1040,"r":47},{"i":1045,"r":49},{"i":1050,"r":57},{"i":1055,"r":43},{"i":1059,"r":32},{"i":1064,"r":36},{"i":1069,"r":47},{"i":1072,"r":56},{"i":1077,"r":44},{"i":1083,"r":25},{"i":1086,"r":39},{"i":1090,"r":54},{"i":1094,"r":40},{"i":1100,"r":53},{"i":1105,"r":50},{"i":1111,"r":43},{"i":1116,"r":57},{"i":1118,"r":69},{"i":1123,"r":60},{"i":1128,"r":66},{"i":1134,"r":69},{"i":1138,"r":63},{"i":1142,"r":71},{"i":1147,"r":62},{"i":1152,"r":63},{"i":1156,"r":49},{"i":1159,"r":62},{"i":1164,"r":67},{"i":1169,"r":66},{"i":1172,"r":70},{"i":1176,"r":71},{"i":1179,"r":50},{"i":1184,"r":44},{"i":1188,"r":43},{"i":1193,"r":30},{"i":1197,"r":46},{"i":1202,"r":52},{"i":1207,"r":57},{"i":1212,"r":63},{"i":1217,"r":59},{"i":1222,"r":64},{"i":1227,"r":67},{"i":1232,"r":57},{"i":1237,"r":60},{"i":1242,"r":56},{"i":1247,"r":49.3}
    ],
    "cci": [
      {"i":0,"k":-58},{"i":4,"k":-193},{"i":10,"k":0},{"i":14,"k":135},{"i":18.6,"k":19},{"i":22,"k":-68},{"i":27,"k":116},{"i":30.5,"k":174},{"i":34.6,"k":39},{"i":37.3,"k":-164},{"i":42,"k":-39},{"i":47.5,"k":97},{"i":52.6,"k":-126},{"i":57.7,"k":-48},{"i":64.5,"k":-247},{"i":68.5,"k":97},{"i":73,"k":-39},{"i":78,"k":39},{"i":83,"k":116},{"i":87.6,"k":-145},{"i":91.7,"k":155},{"i":96.8,"k":0},{"i":102,"k":145},{"i":107,"k":-39},{"i":114,"k":-116},{"i":118,"k":135},{"i":126,"k":-164},{"i":131,"k":0},{"i":136,"k":145},{"i":142,"k":-251},{"i":146,"k":-39},{"i":151,"k":164},{"i":156,"k":-58},{"i":161,"k":0},{"i":166.5,"k":145},{"i":171.5,"k":-39},{"i":177,"k":-213},{"i":182,"k":-39},{"i":188.5,"k":135},{"i":195,"k":-116},{"i":200.5,"k":-135},{"i":205.5,"k":174},{"i":210,"k":155},{"i":216,"k":-19},{"i":221,"k":135},{"i":226,"k":-39},{"i":231,"k":-77},{"i":236,"k":0},{"i":241,"k":-193},{"i":248,"k":0},{"i":253,"k":97},{"i":258,"k":-77},{"i":265,"k":19},{"i":270,"k":-290},{"i":275,"k":58},{"i":280,"k":-116},{"i":287,"k":-222},{"i":292,"k":19},{"i":298,"k":174},{"i":304,"k":193},{"i":309,"k":39},{"i":314,"k":97},{"i":319,"k":-135},{"i":324.5,"k":-39},{"i":329,"k":77},{"i":334,"k":-77},{"i":338,"k":135},{"i":344,"k":184},{"i":350,"k":-19},{"i":357,"k":164},{"i":362,"k":19},{"i":367,"k":-97},{"i":372,"k":58},{"i":376.5,"k":-193},{"i":382,"k":-135},{"i":387,"k":-116},{"i":392.5,"k":-97},{"i":400,"k":251},{"i":406,"k":135},{"i":411,"k":-19},{"i":416,"k":-213},{"i":421,"k":77},{"i":426.5,"k":-10},{"i":432,"k":39},{"i":437,"k":-39},{"i":442,"k":-155},
      {"i":445,"k":116},{"i":448,"k":242},{"i":450,"k":-68},{"i":454,"k":-29},{"i":457,"k":-77},{"i":460,"k":213},{"i":464,"k":39},{"i":467,"k":174},{"i":472,"k":135},{"i":478,"k":77},{"i":483,"k":-184},{"i":486,"k":39},{"i":489,"k":-58},{"i":494,"k":164},{"i":498,"k":97},{"i":501,"k":193},{"i":506,"k":135},{"i":511,"k":155},{"i":517,"k":126},{"i":520,"k":-48},{"i":526,"k":164},{"i":530,"k":-19},{"i":535,"k":135},{"i":540,"k":-77},{"i":545,"k":-19},{"i":549,"k":58},{"i":552,"k":-232},{"i":557,"k":-10},{"i":563,"k":135},{"i":568,"k":-97},{"i":573,"k":164},{"i":580,"k":-126},{"i":585,"k":106},{"i":590,"k":39},{"i":595,"k":77},{"i":600,"k":193},{"i":603,"k":203},{"i":608,"k":58},{"i":612,"k":77},{"i":615,"k":290},{"i":619,"k":29},{"i":625,"k":164},{"i":630,"k":-145},{"i":636,"k":-58},{"i":641,"k":29},{"i":646,"k":-193},{"i":651,"k":77},{"i":656,"k":39},{"i":663,"k":213},{"i":668,"k":-116},{"i":671,"k":-193},{"i":676,"k":-10},{"i":680,"k":-116},{"i":683,"k":-213},{"i":690,"k":-58},{"i":694,"k":174},{"i":699,"k":97},{"i":704,"k":135},{"i":709,"k":97},{"i":714,"k":-10},{"i":717,"k":155},{"i":722,"k":-10},{"i":726,"k":126},{"i":731,"k":116},{"i":734,"k":-193},{"i":739,"k":-39},{"i":744,"k":-270},{"i":748,"k":-77},{"i":753,"k":-39},{"i":756,"k":-135},{"i":761,"k":0},{"i":766,"k":-116},{"i":771,"k":-97},{"i":776,"k":232},{"i":780,"k":58},{"i":785,"k":-116},{"i":790,"k":-39},{"i":794,"k":39},{"i":800,"k":145},{"i":805,"k":19},{"i":811,"k":-77},{"i":814,"k":-184},{"i":819,"k":-68},{"i":822,"k":-222},{"i":827,"k":-77},{"i":833,"k":145},{"i":836,"k":116},{"i":841,"k":0},{"i":845,"k":-155},{"i":850,"k":-10},{"i":853,"k":-232},{"i":858,"k":-106},{"i":863,"k":-77},{"i":869,"k":77},{"i":874,"k":-29},{"i":879,"k":-174},{"i":882,"k":87},{"i":887,"k":77},{"i":891,"k":164},
      {"i":894,"k":106},{"i":898,"k":222},{"i":902,"k":-48},{"i":908,"k":-203},{"i":913,"k":58},{"i":916,"k":155},{"i":921,"k":-10},{"i":926,"k":-77},{"i":929,"k":-270},{"i":931,"k":-116},{"i":936,"k":-164},{"i":940,"k":-29},{"i":945,"k":106},{"i":950,"k":-10},{"i":953,"k":193},{"i":958,"k":-155},{"i":962,"k":-77},{"i":967,"k":-106},{"i":969,"k":19},{"i":974,"k":-251},{"i":977,"k":-58},{"i":981,"k":-39},{"i":985,"k":-319},{"i":989,"k":-39},{"i":992,"k":174},{"i":998,"k":58},{"i":1003,"k":-39},{"i":1006,"k":-300},{"i":1009,"k":-97},{"i":1015,"k":0},{"i":1020,"k":-164},{"i":1025,"k":-213},{"i":1030,"k":-58},{"i":1034,"k":87},{"i":1038,"k":39},{"i":1043,"k":116},{"i":1045,"k":-68},{"i":1050,"k":222},{"i":1055,"k":-184},{"i":1060,"k":-68},{"i":1066,"k":0},{"i":1071,"k":174},{"i":1076,"k":0},{"i":1081,"k":-232},{"i":1086,"k":-39},{"i":1090,"k":87},{"i":1096,"k":-58},{"i":1101,"k":87},{"i":1105,"k":213},{"i":1111,"k":-116},{"i":1117,"k":232},{"i":1120,"k":126},{"i":1125,"k":39},{"i":1130,"k":174},{"i":1135,"k":77},{"i":1139,"k":155},{"i":1144,"k":58},{"i":1149,"k":39},{"i":1152,"k":155},{"i":1156,"k":-116},{"i":1161,"k":155},{"i":1166,"k":58},{"i":1171,"k":145},{"i":1174,"k":-19},{"i":1177,"k":203},{"i":1179,"k":-193},{"i":1183,"k":-77},{"i":1187,"k":-48},{"i":1192,"k":-193},{"i":1196,"k":-10},{"i":1201,"k":-116},{"i":1205,"k":155},{"i":1208,"k":77},{"i":1213,"k":193},{"i":1217,"k":77},{"i":1222,"k":116},{"i":1225,"k":19},{"i":1229,"k":232},{"i":1232,"k":19},{"i":1237,"k":106},{"i":1241,"k":-10},{"i":1244,"k":135},{"i":1246,"k":19},{"i":1247,"k":-174}
    ]
  },
  "vconcat": [
    {
      "width": 1798,
      "height": 540,
      "layer": [
        {
          "data": {"name": "px"},
          "mark": {"type": "rule", "strokeWidth": 1, "clip": true},
          "encoding": {
            "x": {"field": "i", "type": "quantitative", "title": null, "scale": {"domain": [-3.5, 1830], "nice": false, "zero": false},
              "axis": {"values": [0,140,280,420,560,700,840,980,1120,1260,1400,1540,1680,1820], "tickCount": 100, "labels": false, "ticks": false, "tickSize": 0, "domain": true, "domainColor": "#4b535b", "domainWidth": 1.5, "grid": true}},
            "y": {"field": "l", "type": "quantitative", "title": null, "scale": {"domain": [0.91917, 1.29821], "nice": false, "zero": false},
              "axis": {"orient": "right", "values": [0.91917,0.94444,0.96971,0.99497,1.02024,1.04551,1.07078,1.09605,1.12132,1.14659,1.17186,1.19713,1.2224,1.24767,1.27294], "tickCount": 100, "labelExpr": "datum.value > 1.0958 && datum.value < 1.0963 ? '' : format(datum.value, '.5f')", "labelBaseline": {"condition": {"test": "datum.value < 0.92", "value": "bottom"}, "value": "middle"}, "labelOverlap": false, "labelPadding": 8, "ticks": false, "tickSize": 0, "domain": false, "grid": true}},
            "y2": {"field": "h"},
            "color": {"condition": {"test": "datum.c >= datum.o", "value": "#1bb866"}, "value": "#e8392d"}
          }
        },
        {
          "data": {"name": "px"},
          "mark": {"type": "bar", "size": 3, "clip": true},
          "encoding": {
            "x": {"field": "i", "type": "quantitative", "title": null},
            "y": {"field": "o", "type": "quantitative", "title": null},
            "y2": {"field": "c"},
            "color": {"condition": {"test": "datum.c >= datum.o", "value": "#1bb866"}, "value": "#e8392d"}
          }
        },
        {
          "data": {"name": "ma"},
          "transform": [{"filter": "datum.k == '1000'"}],
          "mark": {"type": "line", "color": "#12a97a", "strokeWidth": 2.6, "clip": true},
          "encoding": {"x": {"field": "i", "type": "quantitative", "title": null}, "y": {"field": "v", "type": "quantitative", "title": null}}
        },
        {
          "data": {"name": "ma"},
          "transform": [{"filter": "datum.k == '200'"}],
          "mark": {"type": "line", "color": "#4a9fd6", "strokeWidth": 1.6, "interpolate": "monotone", "clip": true},
          "encoding": {"x": {"field": "i", "type": "quantitative", "title": null}, "y": {"field": "v", "type": "quantitative", "title": null}}
        },
        {
          "data": {"name": "ma"},
          "transform": [{"filter": "datum.k == '60'"}],
          "mark": {"type": "line", "color": "#b3161a", "strokeWidth": 1.5, "interpolate": "monotone", "clip": true},
          "encoding": {"x": {"field": "i", "type": "quantitative", "title": null}, "y": {"field": "v", "type": "quantitative", "title": null}}
        },
        {
          "data": {"name": "px"},
          "mark": {"type": "line", "color": "#e9d21e", "strokeWidth": 1.3, "clip": true},
          "encoding": {"x": {"field": "i", "type": "quantitative", "title": null}, "y": {"field": "c", "type": "quantitative", "title": null}}
        },
        {
          "data": {"name": "ln"},
          "transform": [{"filter": "datum.g == 'blue'"}],
          "mark": {"type": "line", "color": "#1a7fe0", "strokeWidth": 1.4, "clip": true},
          "encoding": {"x": {"field": "i", "type": "quantitative", "title": null}, "y": {"field": "p", "type": "quantitative", "title": null}, "detail": {"field": "id"}}
        },
        {
          "data": {"name": "hl"},
          "transform": [{"filter": "datum.k == 'r'"}],
          "mark": {"type": "rule", "color": "#c8100f", "strokeWidth": 2.6},
          "encoding": {"y": {"field": "p", "type": "quantitative", "title": null}}
        },
        {
          "data": {"name": "hl"},
          "transform": [{"filter": "datum.k == 's'"}],
          "mark": {"type": "rule", "color": "#e2453d", "strokeWidth": 3},
          "encoding": {"y": {"field": "p", "type": "quantitative", "title": null}}
        },
        {
          "data": {"name": "fib"},
          "mark": {"type": "rule", "color": "#eedb3a", "strokeWidth": 1.3},
          "encoding": {"x": {"datum": 1082.5, "type": "quantitative", "title": null}, "x2": {"datum": 1830}, "y": {"field": "p", "type": "quantitative", "title": null}}
        },
        {
          "data": {"name": "fib"},
          "mark": {"type": "text", "align": "right", "baseline": "bottom", "dy": -3, "font": "Roboto", "fontSize": 12, "color": "#dcc83c"},
          "encoding": {"x": {"datum": 1826, "type": "quantitative", "title": null}, "y": {"field": "p", "type": "quantitative", "title": null}, "text": {"field": "t"}}
        },
        {
          "data": {"name": "ln"},
          "transform": [{"filter": "datum.g == 'fibd'"}],
          "mark": {"type": "line", "color": "#eedb3a", "strokeWidth": 1.1, "clip": true},
          "encoding": {"x": {"field": "i", "type": "quantitative", "title": null}, "y": {"field": "p", "type": "quantitative", "title": null}, "detail": {"field": "id"}}
        },
        {
          "data": {"name": "ln"},
          "transform": [{"filter": "datum.g == 'white'"}],
          "mark": {"type": "line", "color": "#ffffff", "strokeWidth": 2, "clip": true},
          "encoding": {"x": {"field": "i", "type": "quantitative", "title": null}, "y": {"field": "p", "type": "quantitative", "title": null}, "detail": {"field": "id"}}
        },
        {
          "data": {"name": "ln"},
          "transform": [{"filter": "datum.g == 'dash'"}],
          "mark": {"type": "line", "color": "#ffffff", "strokeWidth": 2.3, "strokeDash": [9, 6], "clip": true},
          "encoding": {"x": {"field": "i", "type": "quantitative", "title": null}, "y": {"field": "p", "type": "quantitative", "title": null}, "detail": {"field": "id"}}
        },
        {
          "data": {"name": "wv"},
          "mark": {"type": "text", "font": "Roboto", "fontWeight": 300, "fontSize": 20, "color": "#ffffff", "align": "center", "baseline": "middle"},
          "encoding": {"x": {"field": "i", "type": "quantitative", "title": null}, "y": {"field": "p", "type": "quantitative", "title": null}, "text": {"field": "t"}}
        },
        {
          "data": {"name": "hl"},
          "mark": {"type": "bar", "size": 16},
          "encoding": {
            "x": {"datum": 1781, "type": "quantitative", "title": null}, "x2": {"datum": 1830},
            "y": {"field": "p", "type": "quantitative", "title": null},
            "color": {"condition": {"test": "datum.k == 'r'", "value": "#d20000"}, "value": "#e2443c"}
          }
        },
        {
          "data": {"name": "hl"},
          "mark": {"type": "text", "font": "Roboto", "fontSize": 12, "color": "#ffffff", "align": "center", "baseline": "middle"},
          "encoding": {"x": {"datum": 1805.5, "type": "quantitative", "title": null}, "y": {"field": "p", "type": "quantitative", "title": null}, "text": {"field": "t"}}
        },
        {
          "data": {"values": [{"t": "1.09664", "p": 1.09664}]},
          "mark": {"type": "bar", "size": 19, "color": "#4b5863"},
          "encoding": {"x": {"datum": 1832.5, "type": "quantitative", "title": null}, "x2": {"datum": 1887}, "y": {"field": "p", "type": "quantitative", "title": null}}
        },
        {
          "data": {"values": [{"t": "1.09664", "p": 1.09664}]},
          "mark": {"type": "text", "font": "Roboto", "fontSize": 13, "fontWeight": "bold", "color": "#ffffff", "align": "center", "baseline": "middle"},
          "encoding": {"x": {"datum": 1859.5, "type": "quantitative", "title": null}, "y": {"field": "p", "type": "quantitative", "title": null}, "text": {"field": "t"}}
        },
        {
          "data": {"name": "tm"},
          "mark": {"type": "text", "font": "Roboto", "fontSize": 15, "align": "left", "baseline": "middle"},
          "encoding": {
            "x": {"field": "i", "type": "quantitative", "title": null},
            "y": {"datum": 0.9336, "type": "quantitative", "title": null},
            "text": {"field": "t"},
            "color": {"condition": {"test": "datum.k == 'n'", "value": "#f28b0c"}, "value": "#c4c8cc"}
          }
        },
        {
          "data": {"values": [{}]},
          "mark": {"type": "rect", "color": "#1c2227", "cornerRadius": 3},
          "encoding": {"x": {"datum": 6, "type": "quantitative", "title": null}, "x2": {"datum": 171}, "y": {"datum": 1.3042, "type": "quantitative", "title": null}, "y2": {"datum": 1.2884}}
        },
        {
          "data": {"values": [{}]},
          "mark": {"type": "rect", "color": "#11161a", "stroke": "#363d44", "strokeWidth": 1, "cornerRadius": 3},
          "encoding": {"x": {"datum": 129, "type": "quantitative", "title": null}, "x2": {"datum": 164}, "y": {"datum": 1.301, "type": "quantitative", "title": null}, "y2": {"datum": 1.2893}}
        },
        {
          "data": {"values": [{"t": "EURUSD", "i": 17}, {"t": "D1", "i": 133}]},
          "mark": {"type": "text", "font": "Roboto", "fontSize": 11, "fontWeight": "bold", "color": "#d3d7db", "align": "left", "baseline": "middle"},
          "encoding": {"x": {"field": "i", "type": "quantitative", "title": null}, "y": {"datum": 1.2962, "type": "quantitative", "title": null}, "text": {"field": "t"}}
        },
        {
          "data": {"values": [{"t": "FX", "i": 71}, {"t": "▼", "i": 88}, {"t": "▼", "i": 152}]},
          "mark": {"type": "text", "font": "DejaVu Sans", "fontSize": 8, "color": "#9aa0a6", "align": "left", "baseline": "middle"},
          "encoding": {"x": {"field": "i", "type": "quantitative", "title": null}, "y": {"datum": 1.2962, "type": "quantitative", "title": null}, "text": {"field": "t"}}
        },
        {
          "data": {"values": [{"t": "≡✖\n≡✖\n≡✖\n≡✖"}]},
          "mark": {"type": "text", "font": "DejaVu Sans", "fontSize": 10, "color": "#6d747b", "align": "left", "baseline": "top", "lineBreak": "\n", "lineHeight": 14},
          "encoding": {"x": {"datum": 1.5, "type": "quantitative", "title": null}, "y": {"datum": 0.9599, "type": "quantitative", "title": null}, "text": {"field": "t"}}
        },
        {
          "data": {"values": [{"t": "SMA [60,  0] 1.08535\nSMA [8,  0] 1.10072\nSMA [200,  0] 1.05125\nSMA [1000,  0] 1.12198"}]},
          "mark": {"type": "text", "font": "Roboto", "fontSize": 11, "color": "#d0d4d8", "align": "left", "baseline": "top", "lineBreak": "\n", "lineHeight": 14},
          "encoding": {"x": {"datum": 28, "type": "quantitative", "title": null}, "y": {"datum": 0.9599, "type": "quantitative", "title": null}, "text": {"field": "t"}}
        }
      ]
    },
    {
      "width": 1798,
      "height": 126,
      "layer": [
        {
          "data": {"name": "hist"},
          "mark": {"type": "bar", "size": 6, "clip": true},
          "encoding": {
            "x": {"field": "i", "type": "quantitative", "title": null, "scale": {"domain": [-3.5, 1830], "nice": false, "zero": false},
              "axis": {"values": [0,140,280,420,560,700,840,980,1120,1260,1400,1540,1680,1820], "tickCount": 100, "labels": false, "ticks": false, "tickSize": 0, "domain": true, "domainColor": "#4b535b", "domainWidth": 1.5, "grid": true}},
            "y": {"field": "h", "type": "quantitative", "title": null, "scale": {"domain": [-0.01657, 0.01657], "nice": false, "zero": false},
              "axis": {"orient": "right", "values": [-0.01657, -0.00828, 0, 0.00828, 0.01657], "tickCount": 100, "labelExpr": "replace(format(datum.value, '.5f'), '\u2212', '-')", "labelBaseline": {"condition": [{"test": "datum.value > 0.016", "value": "top"}, {"test": "datum.value < -0.016", "value": "bottom"}], "value": "middle"}, "labelOverlap": false, "labelPadding": 8, "ticks": false, "tickSize": 0, "domain": false, "grid": true}},
            "y2": {"datum": 0},
            "color": {"condition": {"test": "datum.h >= 0", "value": "#f6a43f"}, "value": "#e9765c"}
          }
        },
        {
          "data": {"name": "macd"},
          "mark": {"type": "line", "color": "#c2661c", "strokeWidth": 1.3, "interpolate": "monotone", "clip": true},
          "encoding": {"x": {"field": "i", "type": "quantitative", "title": null}, "y": {"field": "s", "type": "quantitative", "title": null}}
        },
        {
          "data": {"name": "macd"},
          "mark": {"type": "line", "color": "#f4a23a", "strokeWidth": 1.3, "interpolate": "monotone", "clip": true},
          "encoding": {"x": {"field": "i", "type": "quantitative", "title": null}, "y": {"field": "m", "type": "quantitative", "title": null}}
        },
        {
          "data": {"values": [{"t": "≡✖", "u": "MACD [12,  26,  9] 0.00272,  0.00388"}]},
          "mark": {"type": "text", "font": "DejaVu Sans", "fontSize": 10, "color": "#6d747b", "align": "left", "baseline": "middle"},
          "encoding": {"x": {"datum": 1.5, "type": "quantitative", "title": null}, "y": {"datum": -0.01375, "type": "quantitative", "title": null}, "text": {"field": "t"}}
        },
        {
          "data": {"values": [{"t": "≡✖", "u": "MACD [12,  26,  9] 0.00272,  0.00388"}]},
          "mark": {"type": "text", "font": "Roboto", "fontSize": 11, "color": "#d0d4d8", "align": "left", "baseline": "middle"},
          "encoding": {"x": {"datum": 28, "type": "quantitative", "title": null}, "y": {"datum": -0.01375, "type": "quantitative", "title": null}, "text": {"field": "u"}}
        }
      ]
    },
    {
      "width": 1798,
      "height": 117,
      "layer": [
        {
          "data": {"name": "rsi"},
          "mark": {"type": "line", "color": "#1f84e6", "strokeWidth": 1.3, "clip": true},
          "encoding": {
            "x": {"field": "i", "type": "quantitative", "title": null, "scale": {"domain": [-3.5, 1830], "nice": false, "zero": false},
              "axis": {"values": [0,140,280,420,560,700,840,980,1120,1260,1400,1540,1680,1820], "tickCount": 100, "labels": false, "ticks": false, "tickSize": 0, "domain": true, "domainColor": "#4b535b", "domainWidth": 1.5, "grid": true}},
            "y": {"field": "r", "type": "quantitative", "title": null, "scale": {"domain": [0, 100], "nice": false, "zero": false},
              "axis": {"orient": "right", "values": [0, 30, 70, 100], "tickCount": 100, "format": ".1f", "labelBaseline": {"condition": [{"test": "datum.value > 99", "value": "top"}, {"test": "datum.value < 1", "value": "bottom"}], "value": "middle"}, "labelOverlap": false, "labelPadding": 8, "ticks": false, "tickSize": 0, "domain": false, "grid": true}}
          }
        },
        {
          "data": {"values": [{"t": "≡✖", "u": "RSI [14]  49.3"}]},
          "mark": {"type": "text", "font": "DejaVu Sans", "fontSize": 10, "color": "#6d747b", "align": "left", "baseline": "middle"},
          "encoding": {"x": {"datum": 1.5, "type": "quantitative", "title": null}, "y": {"datum": 8.8, "type": "quantitative", "title": null}, "text": {"field": "t"}}
        },
        {
          "data": {"values": [{"t": "≡✖", "u": "RSI [14]  49.3"}]},
          "mark": {"type": "text", "font": "Roboto", "fontSize": 11, "color": "#d0d4d8", "align": "left", "baseline": "middle"},
          "encoding": {"x": {"datum": 28, "type": "quantitative", "title": null}, "y": {"datum": 8.8, "type": "quantitative", "title": null}, "text": {"field": "u"}}
        }
      ]
    },
    {
      "width": 1798,
      "height": 121,
      "layer": [
        {
          "data": {"name": "cci"},
          "mark": {"type": "line", "color": "#1f84e6", "strokeWidth": 1.3, "clip": true},
          "encoding": {
            "x": {"field": "i", "type": "quantitative", "title": null, "scale": {"domain": [-3.5, 1830], "nice": false, "zero": false},
              "axis": {"values": [0,140,280,420,560,700,840,980,1120,1260,1400,1540,1680,1820], "tickCount": 100, "labelExpr": "['05.08.2018','04.03.2019','13.09.2019','25.03.2020','04.10.2020','16.04.2021','26.10.2021','06.05.2022','15.11.2022','25.05.2023','05.11.2023','19.04.2024','01.10.2024','14.03.2025'][round(datum.value / 140)]", "labelAlign": "left", "labelBaseline": "top", "labelPadding": 5, "labelFlush": false, "labelOverlap": false, "labelBound": false, "ticks": false, "tickSize": 0, "domain": true, "domainColor": "#4b535b", "domainWidth": 1.5, "grid": true}},
            "y": {"field": "k", "type": "quantitative", "title": null, "scale": {"domain": [-365, 338], "nice": false, "zero": false},
              "axis": {"orient": "right", "values": [-200, 0, 200], "tickCount": 100, "labelExpr": "replace(format(datum.value, '.1f'), '\u2212', '-')", "labelOverlap": false, "labelPadding": 8, "ticks": false, "tickSize": 0, "domain": false, "grid": true}}
          }
        },
        {
          "data": {"values": [{"t": "≡✖", "u": "CCI [14]  -177.9"}]},
          "mark": {"type": "text", "font": "DejaVu Sans", "fontSize": 10, "color": "#6d747b", "align": "left", "baseline": "middle"},
          "encoding": {"x": {"datum": 1.5, "type": "quantitative", "title": null}, "y": {"datum": -326, "type": "quantitative", "title": null}, "text": {"field": "t"}}
        },
        {
          "data": {"values": [{"t": "≡✖", "u": "CCI [14]  -177.9"}]},
          "mark": {"type": "text", "font": "Roboto", "fontSize": 11, "color": "#d0d4d8", "align": "left", "baseline": "middle"},
          "encoding": {"x": {"datum": 28, "type": "quantitative", "title": null}, "y": {"datum": -326, "type": "quantitative", "title": null}, "text": {"field": "u"}}
        }
      ]
    }
  ],
  "resolve": {"scale": {"x": "independent", "y": "independent"}},
  "config": {
    "view": {"stroke": null},
    "axis": {"labelFont": "Roboto", "labelFontSize": 12, "labelColor": "#c9cdd1", "gridColor": "#2a3037", "gridWidth": 1}
  }
}
